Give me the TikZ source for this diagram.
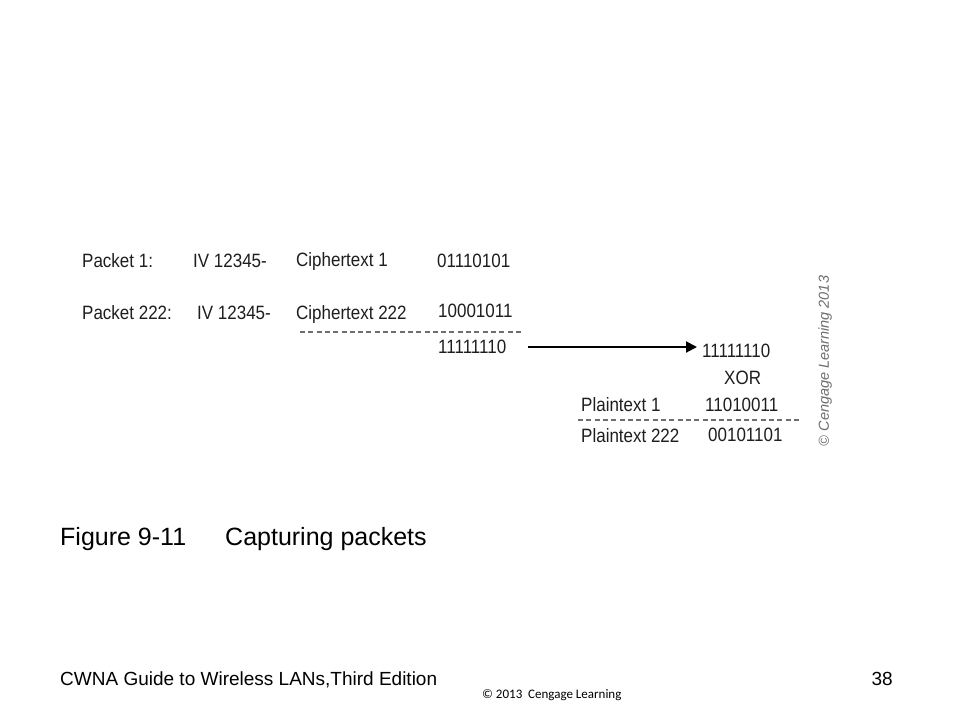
\documentclass[tikz,border=0pt]{standalone}
\usepackage{fontspec}
\setmainfont{Liberation Sans}
\newfontfamily\diag[FakeStretch=0.88]{Liberation Sans}
\newfontfamily\calib{Carlito}
\usetikzlibrary{arrows.meta}
\definecolor{txt}{RGB}{30,30,30}
\definecolor{dashc}{RGB}{110,110,110}
\definecolor{copyc}{RGB}{110,110,110}
\begin{document}
\begin{tikzpicture}[x=1pt,y=-1pt,
  lbl/.style={anchor=base west,inner sep=0pt,text=txt,font=\diag\fontsize{19.3}{22}\selectfont},
  dashline/.style={draw=dashc,line width=1.6pt,dash pattern=on 5pt off 3.3pt},
  arr/.style={draw=black,line width=2pt,-{Triangle[length=11pt,width=11pt]}}]
\useasboundingbox[fill=white] (0,0) rectangle (960,720);
% row 1
\node[lbl] (p1) at (82,267) {Packet 1:};
\node[lbl] (iv1) at (193,267) {IV 12345-};
\node[lbl] (c1) at (296,266) {Ciphertext 1};
\node[lbl] (b1) at (437,267) {01110101};
% row 2
\node[lbl] (p2) at (82,319) {Packet 222:};
\node[lbl] (iv2) at (197,319) {IV 12345-};
\node[lbl] (c2) at (296,319) {Ciphertext 222};
\node[lbl] (b2) at (438,317) {10001011};
\coordinate (d1a) at (300,332);
\coordinate (d1b) at (523,332);
\draw[dashline] (d1a) -- (d1b);
\node[lbl] (b3) at (438,353) {11111110};
\coordinate (aa) at (528,347);
\coordinate (ab) at (697,347);
\draw[arr] (aa) -- (ab);
% right part
\node[lbl] (r1) at (702,357) {11111110};
\node[lbl] (xor) at (724,384) {XOR};
\node[lbl] (pt1) at (581,411) {Plaintext 1};
\node[lbl] (r2) at (705,411) {11010011};
\coordinate (d2a) at (578,420);
\coordinate (d2b) at (800,420);
\draw[dashline] (d2a) -- (d2b);
\node[lbl] (pt2) at (581,442) {Plaintext 222};
\node[lbl] (r3) at (708,441) {00101101};
% rotated copyright
\node[rotate=90,inner sep=0pt,text=copyc,font=\fontsize{14.5}{16}\selectfont\itshape] (cr) at (825,361) {© Cengage Learning 2013};
% caption
\node[anchor=base west,inner sep=0pt,font=\fontsize{25}{30}\selectfont] (fig) at (60,545) {Figure 9-11};
\node[anchor=base west,inner sep=0pt,font=\fontsize{25}{30}\selectfont] (cap) at (225,545) {Capturing packets};
% footer
\node[anchor=base west,inner sep=0pt,font=\fontsize{19}{22}\selectfont] (foot) at (60,685) {CWNA Guide to Wireless LANs,Third Edition};
\node[anchor=base east,inner sep=0pt,font=\fontsize{19}{22}\selectfont] (pg) at (893,685) {38};
\node[anchor=base west,inner sep=0pt,font=\calib\fontsize{13}{15}\selectfont] (cc) at (482,698) {© 2013\ \ Cengage Learning};
\end{tikzpicture}
\end{document}
